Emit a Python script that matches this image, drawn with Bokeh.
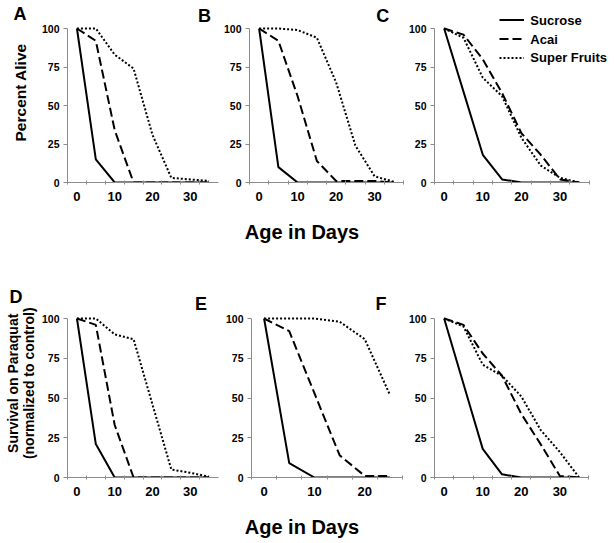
import math
from bokeh.plotting import figure
from bokeh.layouts import column, row
from bokeh.models import Range1d, FixedTicker, Label, Legend, LegendItem
from bokeh.embed import file_html
from bokeh.resources import INLINE

# ---------------- data ----------------
days_long = [0, 5, 10, 15, 20, 25, 30, 35]
days_short = [0, 5, 10, 15, 20, 25]

sucrose_A = [100, 15, 0, 0, 0, 0, 0, 0]
acai_A = [100, 92, 34, 0, 0, 0, 0, 0]
super_A = [100, 100, 83, 74, 31, 3, 2, 1]

sucrose_B = [100, 10, 0, 0, 0, 0, 0, 0]
acai_B = [100, 92, 56, 14, 1, 1, 1, 0]
super_B = [100, 100, 99, 94, 65, 24, 4, 0.5]

sucrose_C = [100, 59, 18, 2, 0, 0, 0, 0]
acai_C = [100, 96, 80, 58, 32, 18, 2, 0]
super_C = [100, 94, 68, 56, 29, 11, 3, 0]

sucrose_D = [100, 21, 0, 0, 0, 0, 0, 0]
acai_D = [100, 96, 33, 0, 0, 0, 0, 0]
super_D = [100, 100, 90, 87, 46, 5, 3, 0.5]

sucrose_E = [100, 9, 0, 0, 0, 0]
acai_E = [100, 92, 53, 14, 1, 1]
super_E = [100, 100, 100, 98, 87, 52]

sucrose_F = [100, 59, 18, 2, 0, 0, 0, 0]
acai_F = [100, 96, 78, 64, 40, 21, 1, 0]
super_F = [100, 95, 71, 64, 51, 30, 16, 0]

y_ticks = [0, 25, 50, 75, 100]
x_label_ticks_long = [0, 10, 20, 30]
x_label_ticks_short = [0, 10, 20]
series_names = ["Sucrose", "Acai", "Super Fruits"]
panel_letters = ["A", "B", "C", "D", "E", "F"]
x_title = "Age in Days"
y_title_top = "Percent Alive"
y_title_bottom = "Survival on Paraquat\n(normalized to control)"

FONT = "Liberation Sans"
AXIS_GRAY = "#8c8c8c"
STYLES = [dict(line_dash="solid"), dict(line_dash="9 4"), dict(line_dash="2 2")]

# ---------------- layout constants (page pixels, page origin = 0,0) ----------------
PAGE_W, PAGE_H = 614, 543
ROW1_TOP, ROW1_Y0, ROW1_Y100 = 0, 182, 28
ROW2_TOP, ROW2_Y0, ROW2_Y100 = 250, 477, 318
BOTTOM_BORDER = 26
BASE_FIX = 5  # alphabetic baseline compensation


class Panel:
    def __init__(self, canvas_left, canvas_right, frame_left, frame_right, axis_right,
                 top, y0px, y100px, days, label_ticks, series):
        self.fl, self.top, self.y0px = frame_left, top, y0px
        x_start = days[0] - 2.5
        x_axis_end = days[-1] + 2.5
        self.x0 = x_start
        self.kx = (x_axis_end - x_start) / (axis_right - frame_left)
        self.ky = 100.0 / (y0px - y100px)
        x_end = x_start + (frame_right - frame_left) * self.kx
        y_end = (y0px - top) * self.ky
        width = canvas_right - canvas_left
        height = (y0px - top) + BOTTOM_BORDER
        p = figure(width=width, height=height,
                   x_range=Range1d(x_start, x_end), y_range=Range1d(0, y_end),
                   output_backend="svg", toolbar_location=None,
                   min_border_left=frame_left - canvas_left,
                   min_border_right=canvas_right - frame_right,
                   min_border_top=0, min_border_bottom=BOTTOM_BORDER)
        p.grid.visible = False
        p.outline_line_color = None
        p.background_fill_color = "white"
        p.border_fill_color = "white"

        bounds = [d - 2.5 for d in days] + [x_axis_end]
        xa = p.xaxis[0]
        xa.bounds = (x_start, x_axis_end)
        xa.ticker = FixedTicker(ticks=label_ticks, minor_ticks=bounds)
        xa.major_tick_out = 0
        xa.major_tick_in = 0
        xa.minor_tick_out = 2
        xa.minor_tick_in = 2
        xa.minor_tick_line_color = AXIS_GRAY
        xa.axis_line_color = AXIS_GRAY
        xa.major_label_text_font = FONT
        xa.major_label_text_font_style = "bold"
        xa.major_label_text_font_size = "13px"
        xa.major_label_text_color = "black"
        xa.major_label_standoff = 7

        ya = p.yaxis[0]
        ya.bounds = (0, 100)
        ya.ticker = FixedTicker(ticks=y_ticks)
        ya.major_tick_out = 4
        ya.major_tick_in = 0
        ya.minor_tick_out = 0
        ya.minor_tick_in = 0
        ya.major_tick_line_color = AXIS_GRAY
        ya.axis_line_color = AXIS_GRAY
        ya.major_label_text_font = FONT
        ya.major_label_text_font_style = "bold"
        ya.major_label_text_font_size = "10.5px"
        ya.major_label_text_color = "black"
        ya.major_label_standoff = 4

        self.renderers = []
        for vals, st in zip(series, STYLES):
            self.renderers.append(p.line(days, vals, line_color="black", line_width=2, **st))
        self.fig = p

    def to_data(self, px, py):
        return self.x0 + (px - self.fl) * self.kx, (self.y0px - py) * self.ky

    def letter(self, text, px, py_baseline):
        x, y = self.to_data(px, py_baseline - BASE_FIX)
        self.fig.add_layout(Label(x=x, y=y, text=text, text_font=FONT,
                                  text_font_style="bold", text_font_size="18px",
                                  text_color="black", text_baseline="alphabetic"))

    def text(self, text, px, py_center, size):
        x, y = self.to_data(px, py_center)
        self.fig.add_layout(Label(x=x, y=y, text=text, text_font=FONT,
                                  text_font_style="bold", text_font_size=size,
                                  text_color="black", text_baseline="middle"))


def blank(width, height):
    s = figure(width=width, height=height, x_range=Range1d(0, width), y_range=Range1d(0, height),
               output_backend="svg", toolbar_location=None, min_border=0)
    s.axis.visible = False
    s.grid.visible = False
    s.outline_line_color = None
    return s


def text_label(x, y, text, size, **kw):
    return Label(x=x, y=y, text=text, text_font=FONT, text_font_style="bold",
                 text_font_size=size, text_color="black", **kw)


# ---------------- top row ----------------
row1_bottom = ROW1_Y0 + BOTTOM_BORDER
row1_h = row1_bottom - ROW1_TOP
gA = blank(38, row1_h)
gA.add_layout(text_label(13, row1_bottom - (20 - BASE_FIX), panel_letters[0], "18px",
                         text_baseline="alphabetic"))
gA.add_layout(text_label(20, row1_bottom - 105, y_title_top, "15.5px", angle=math.pi / 2,
                         text_align="center", text_baseline="middle"))

pA = Panel(38, 220, 64, 218, 218, ROW1_TOP, ROW1_Y0, ROW1_Y100, days_long,
           x_label_ticks_long, [sucrose_A, acai_A, super_A])
pB = Panel(220, 405, 245, 403, 403, ROW1_TOP, ROW1_Y0, ROW1_Y100, days_long,
           x_label_ticks_long, [sucrose_B, acai_B, super_B])
pC = Panel(405, PAGE_W, 430, PAGE_W, 588, ROW1_TOP, ROW1_Y0, ROW1_Y100, days_long,
           x_label_ticks_long, [sucrose_C, acai_C, super_C])
pA.letter(panel_letters[1], 197, 20)
pB.letter(panel_letters[2], 375, 20)

# legend: line samples from Bokeh's Legend, names as text labels beside them
legend = Legend(items=[LegendItem(label=" ", renderers=[r]) for r in pC.renderers],
                location=(65, 115), orientation="vertical",
                glyph_width=25, glyph_height=19, label_height=19, label_width=1,
                label_standoff=0, spacing=0, padding=0, margin=0,
                border_line_color=None, background_fill_alpha=0,
                label_text_font=FONT, label_text_font_size="13px")
pC.fig.add_layout(legend)
for name, yc in zip(series_names, [20, 38.5, 57]):
    pC.text(name, 528, yc, "13px")

# ---------------- x title strip 1 ----------------
age1 = blank(PAGE_W, ROW2_TOP - row1_bottom)
age1.add_layout(text_label(301.5, ROW2_TOP - (236 - BASE_FIX), x_title, "20px",
                           text_align="center", text_baseline="alphabetic"))

# ---------------- bottom row ----------------
row2_bottom = ROW2_Y0 + BOTTOM_BORDER
row2_h = row2_bottom - ROW2_TOP
gD = blank(38, row2_h)
gD.add_layout(text_label(9, row2_bottom - (307 - BASE_FIX), panel_letters[3], "18px",
                         text_baseline="alphabetic"))
gD.add_layout(text_label(20, row2_bottom - 398, y_title_bottom, "14px", angle=math.pi / 2,
                         text_align="center", text_baseline="middle", text_line_height=1.0))

pD = Panel(38, 222, 64, 218, 218, ROW2_TOP, ROW2_Y0, ROW2_Y100, days_long,
           x_label_ticks_long, [sucrose_D, acai_D, super_D])
pE = Panel(222, 405, 246, 402, 402, ROW2_TOP, ROW2_Y0, ROW2_Y100, days_short,
           x_label_ticks_short, [sucrose_E, acai_E, super_E])
pF = Panel(405, PAGE_W, 432, PAGE_W, 588, ROW2_TOP, ROW2_Y0, ROW2_Y100, days_long,
           x_label_ticks_long, [sucrose_F, acai_F, super_F])
pD.letter(panel_letters[4], 194, 308)
pE.letter(panel_letters[5], 374, 308)

# ---------------- x title strip 2 ----------------
age2 = blank(PAGE_W, PAGE_H - row2_bottom)
age2.add_layout(text_label(301.5, PAGE_H - (531 - BASE_FIX), x_title, "20px",
                           text_align="center", text_baseline="alphabetic"))

layout = column(row(gA, pA.fig, pB.fig, pC.fig), age1,
                row(gD, pD.fig, pE.fig, pF.fig), age2)

with open("out.html", "w") as f:
    f.write(file_html(layout, INLINE))
